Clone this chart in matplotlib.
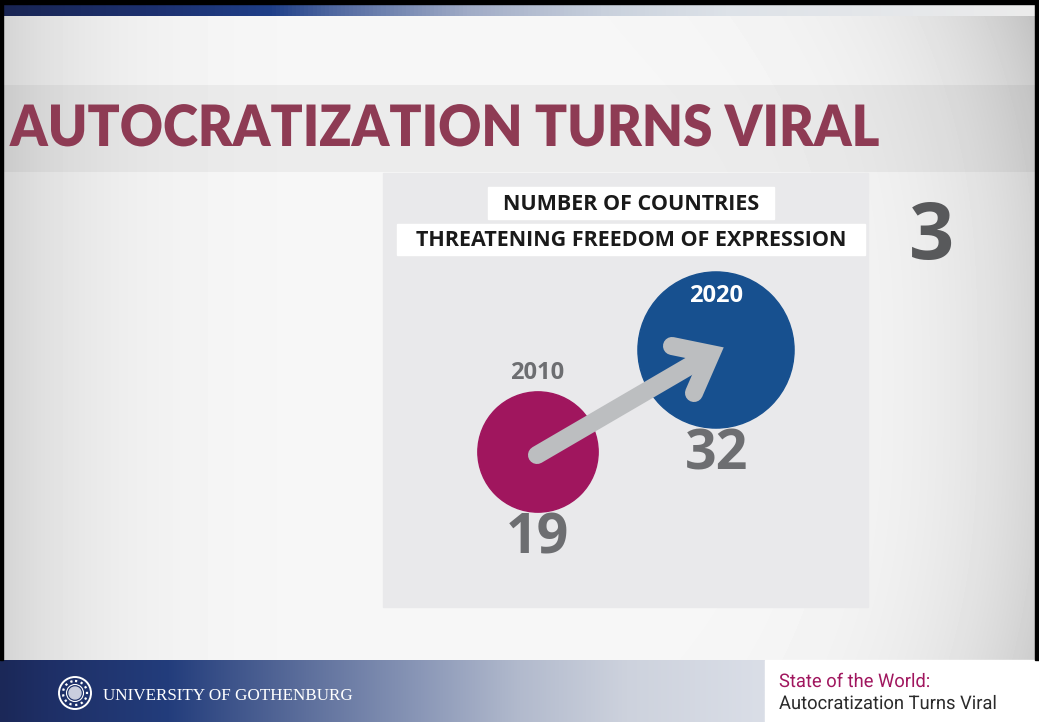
import numpy as np
import matplotlib.pyplot as plt
from matplotlib.colors import LinearSegmentedColormap
from matplotlib.patches import Circle, Rectangle
from matplotlib.patheffects import AbstractPathEffect
from matplotlib.transforms import Affine2D

# data
years = ['2010', '2020']
countries = [19, 32]
circle_colors = ['#a0165e', '#17508f']
year_colors = ['#6d6e71', '#ffffff']

title = 'AUTOCRATIZATION TURNS VIRAL'
header_lines = ['NUMBER OF COUNTRIES', 'THREATENING FREEDOM OF EXPRESSION']
slide_number = '3'
footer_left = 'UNIVERSITY OF GOTHENBURG'
footer_right = ['State of the World:', 'Autocratization Turns Viral']


class Squeeze(AbstractPathEffect):
    # horizontal squeeze of glyphs around x0 (pixels), imitates a condensed face
    def __init__(self, sx, x0):
        super().__init__()
        self.sx, self.x0 = sx, x0

    def draw_path(self, renderer, gc, tpath, affine, rgbFace=None):
        t = affine + Affine2D().translate(-self.x0, 0).scale(self.sx, 1).translate(self.x0, 0)
        renderer.draw_path(gc, tpath, t, rgbFace)


W, H = 1039, 722
fig = plt.figure(figsize=(W / 100, H / 100), dpi=100)
ax = fig.add_axes([0, 0, 1, 1])
ax.axis('off')
ax.set_xlim(0, W)
ax.set_ylim(H, 0)

# background, light with darker sides
yy, xx = np.mgrid[0:H, 0:W]
bg = (0.968 - 0.14 * np.abs((xx - 520) / 520) ** 5
      - 0.09 * np.abs((yy - 380) / 380) ** 3 * (xx / W) ** 6)
ax.imshow(bg, cmap='gray', vmin=0, vmax=1, extent=(0, W, H, 0), aspect='auto', zorder=0)

# top bar
top_cmap = LinearSegmentedColormap.from_list('top', [
    (0, '#192553'), (0.15, '#1d3170'), (0.26, '#1f3f88'), (0.32, '#5068a0'),
    (0.45, '#a0abc6'), (0.58, '#c8d0dc'), (0.7, '#dde2e8'), (1, '#ececec')])
ax.imshow(np.linspace(0, 1, 256)[None, :], cmap=top_cmap, extent=(0, W, 16, 4),
          aspect='auto', zorder=1)
ax.add_patch(Rectangle((0, 0), W, 4, color='black', zorder=2))
ax.add_patch(Rectangle((0, 0), 2.5, 660, color='black', zorder=2))
ax.add_patch(Rectangle((1035, 0), 4, 660, color='black', zorder=2))

# title band
ax.add_patch(Rectangle((2, 85), 1033, 87, color='black', alpha=0.045, lw=0, zorder=1))
t_title = ax.text(10, 129, title, ha='left', va='center', color='#8e3b54', fontsize=41,
                  fontweight='heavy', family='Lato', zorder=3)

# infographic panel
ax.add_patch(Rectangle((383, 173), 485, 434, color='#e9e9eb', zorder=1))
ax.add_patch(Rectangle((488, 187), 286, 32, color='white', zorder=2))
ax.add_patch(Rectangle((397, 224), 468, 31, color='white', zorder=2))
for txt, y in zip(header_lines, [204, 240]):
    ax.text(631, y, txt, ha='center', va='center', color='#1a1a1a', fontsize=15.5,
            fontweight='bold', family='Open Sans', zorder=3)

centers = [(538, 452), (716, 350)]
k = 13.8
for (cx, cy), v, c in zip(centers, countries, circle_colors):
    ax.add_patch(Circle((cx, cy), k * np.sqrt(v), color=c, zorder=2))

# arrow
arrow_kw = dict(color='#bcbec0', lw=13, solid_capstyle='round', zorder=3)
ax.plot([537, 705], [455, 357], **arrow_kw)
ax.plot([672, 711, 694], [346, 354, 393], solid_joinstyle='miter', **arrow_kw)

# labels
year_pos = [(537, 373), (716, 296)]
value_pos = [(537, 539), (717, 455)]
for i in range(2):
    ax.text(*year_pos[i], years[i], ha='center', va='center', color=year_colors[i],
            fontsize=17, fontweight='bold', family='Open Sans', zorder=4)
    ax.text(*value_pos[i], str(countries[i]), ha='center', va='center', color='#6d6e71',
            fontsize=40, fontweight='bold', family='Open Sans', zorder=4)

ax.text(932, 238, slide_number, ha='center', va='center', color='#58595b', fontsize=57,
        fontweight='bold', family='Open Sans', zorder=3)

# footer
foot_cmap = LinearSegmentedColormap.from_list('foot', [
    (0, '#1b2858'), (0.06, '#1e2f66'), (0.22, '#233d7c'), (0.4, '#5d6f9c'),
    (0.55, '#8a97b7'), (0.68, '#b2bacd'), (0.82, '#cdd2dd'), (1, '#dadee7')])
ax.imshow(np.linspace(0, 1, 256)[None, :], cmap=foot_cmap, extent=(0, 765, H, 660),
          aspect='auto', zorder=1)
ax.add_patch(Rectangle((765, 660), W - 765, 62, color='white', zorder=1))

ax.add_patch(Circle((75, 693), 16, fill=False, ec='white', lw=1.4, zorder=3))
ax.add_patch(Circle((75, 693), 12, fill=False, ec='white', lw=1.6, ls=':', zorder=3))
ax.add_patch(Circle((75, 693), 8.5, fill=False, ec='white', lw=0.8, zorder=3))
ax.add_patch(Circle((75, 693), 6, color='#c9cede', zorder=3))
ax.text(103, 696, footer_left, ha='left', va='center', color='white', fontsize=12.3,
        family='Liberation Serif', zorder=3)

t_sub1 = ax.text(779, 682, footer_right[0], ha='left', va='center', color='#a0165e',
                 fontsize=13.5, family='Roboto', zorder=3)
t_sub2 = ax.text(779, 704, footer_right[1], ha='left', va='center', color='#2b2b2b',
                 fontsize=13.5, family='Roboto', zorder=3)

# condense the title and the footer subtitle to the reference widths
fig.canvas.draw()
r = fig.canvas.get_renderer()
w_title = t_title.get_window_extent(r).width
t_title.set_path_effects([Squeeze(870 / w_title, 10)])
w_sub = t_sub2.get_window_extent(r).width
for t in (t_sub1, t_sub2):
    t.set_path_effects([Squeeze(218 / w_sub, 779)])

fig.savefig('out.png', dpi=100)
